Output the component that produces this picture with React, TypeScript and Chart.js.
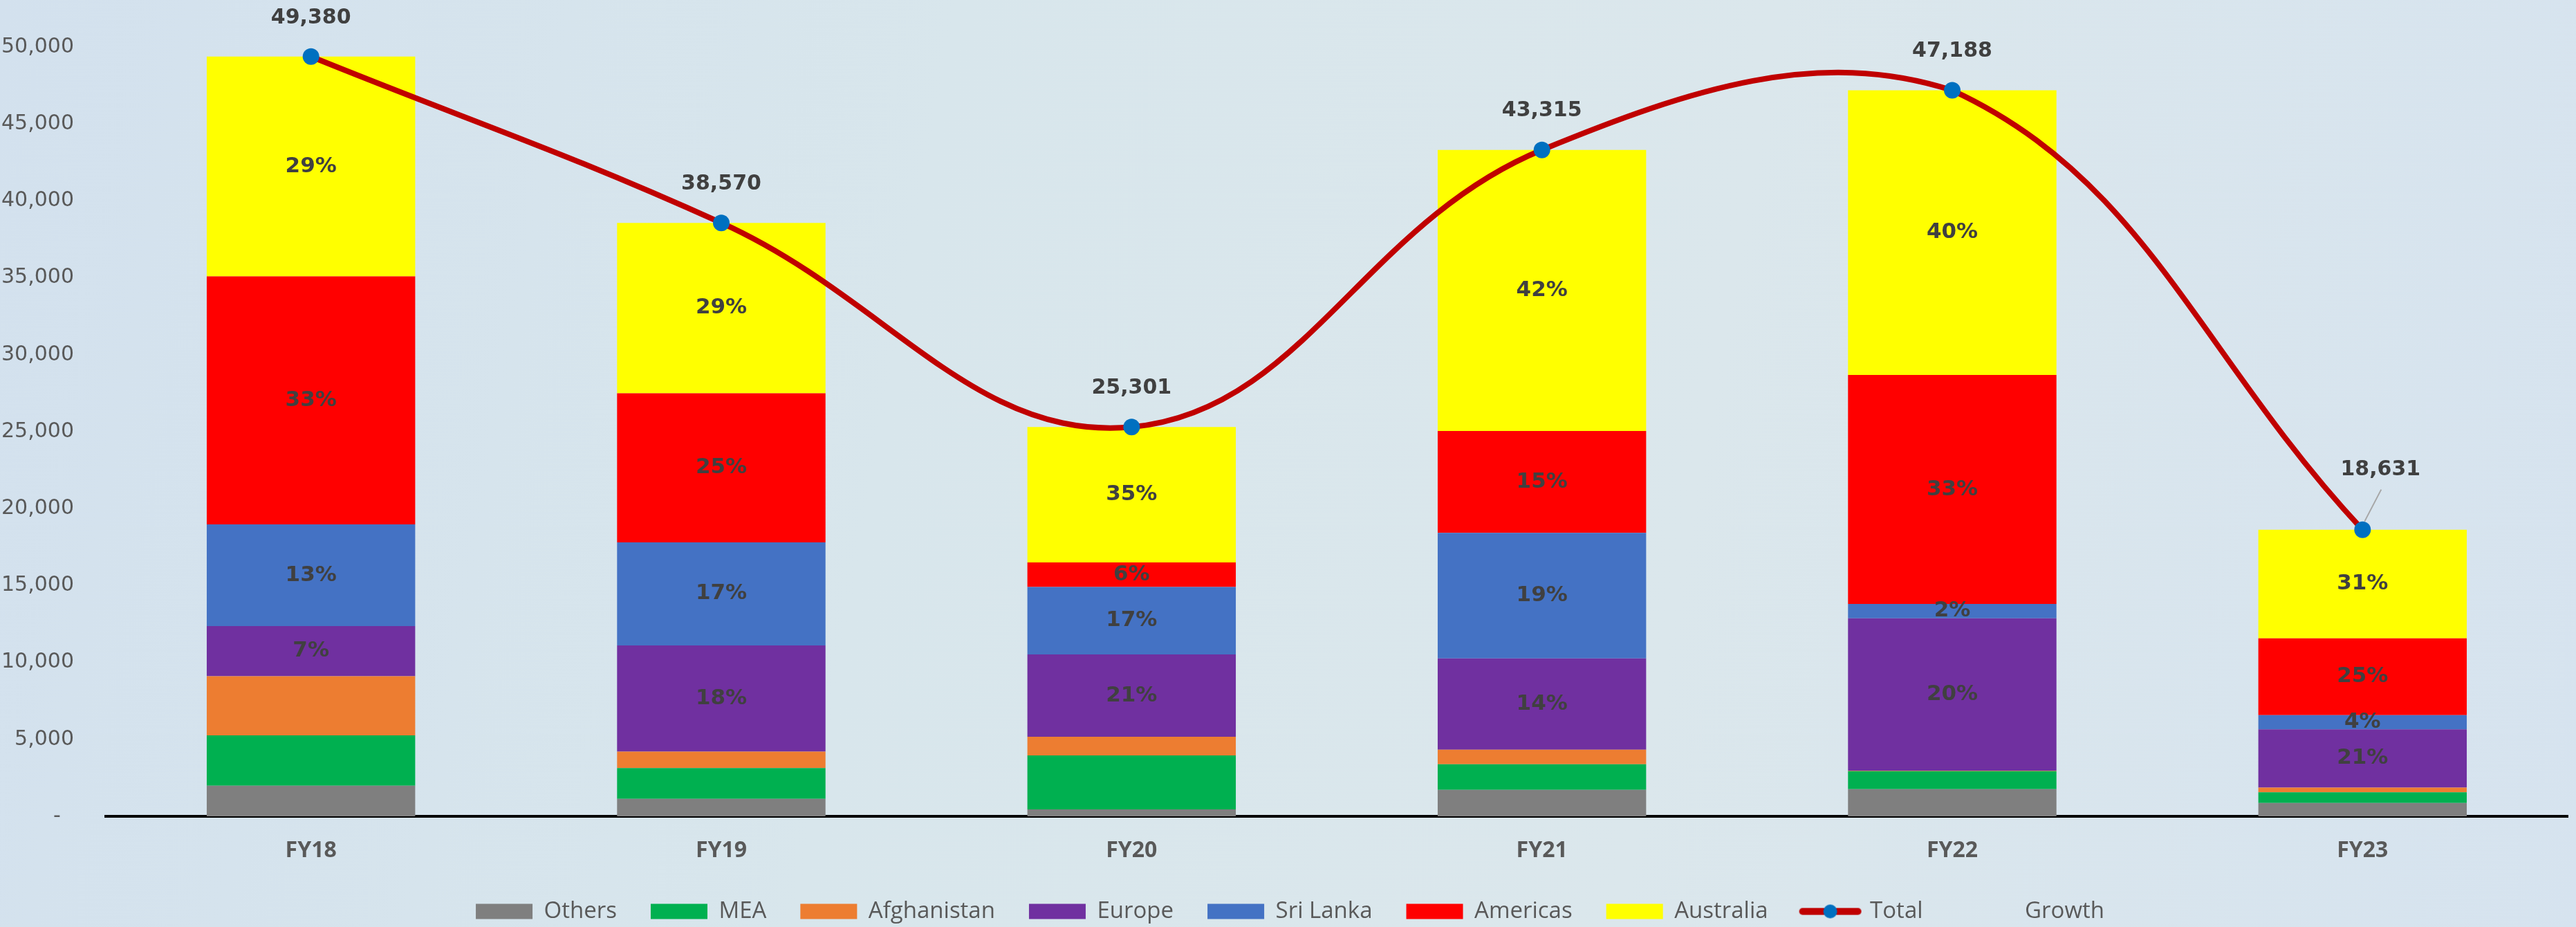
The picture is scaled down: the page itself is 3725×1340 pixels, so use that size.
import React, { useEffect, useRef } from 'react';
import { Chart, registerables } from 'chart.js';

Chart.register(...registerables);

// ---------- data ----------
const categories = ['FY18', 'FY19', 'FY20', 'FY21', 'FY22', 'FY23'];

const others = [1990, 1140, 450, 1720, 1770, 870];
const mea = [3270, 2000, 3510, 1660, 1160, 690];
const afghanistan = [3850, 1060, 1210, 950, 40, 310];
const europe = [3260, 6910, 5350, 5930, 9900, 3780];
const sriLanka = [6600, 6700, 4380, 8160, 930, 930];
const americas = [16130, 9690, 1600, 6620, 14890, 4990];
const australia = [14280, 11070, 8801, 18275, 18498, 7061];
const total = [49380, 38570, 25301, 43315, 47188, 18631];

const europePct = ['7%', '18%', '21%', '14%', '20%', '21%'];
const sriLankaPct = ['13%', '17%', '17%', '19%', '2%', '4%'];
const americasPct = ['33%', '25%', '6%', '15%', '33%', '25%'];
const australiaPct = ['29%', '29%', '35%', '42%', '40%', '31%'];

const yTicks = [0, 5000, 10000, 15000, 20000, 25000, 30000, 35000, 40000, 45000, 50000];

const W = 3725;
const H = 1340;

const fmt = (v: number) => v.toLocaleString('en-US');

export default function App() {
  const ref = useRef<HTMLCanvasElement>(null);

  useEffect(() => {
    const canvas = ref.current;
    if (!canvas) return;

    // legend icon for Total (line + marker)
    const totalIcon = document.createElement('canvas');
    totalIcon.width = 92;
    totalIcon.height = 24;
    const tc = totalIcon.getContext('2d')!;
    tc.strokeStyle = '#C00000';
    tc.lineWidth = 10;
    tc.lineCap = 'round';
    tc.beginPath();
    tc.moveTo(6, 12);
    tc.lineTo(86, 12);
    tc.stroke();
    tc.fillStyle = '#0070C0';
    tc.beginPath();
    tc.arc(46, 12, 10, 0, Math.PI * 2);
    tc.fill();

    const blankIcon = document.createElement('canvas');
    blankIcon.width = 82;
    blankIcon.height = 22;

    const barSets = [
      { label: 'Others', data: others, color: '#7F7F7F', pct: null as string[] | null },
      { label: 'MEA', data: mea, color: '#00B050', pct: null },
      { label: 'Afghanistan', data: afghanistan, color: '#ED7D31', pct: null },
      { label: 'Europe', data: europe, color: '#7030A0', pct: europePct },
      { label: 'Sri Lanka', data: sriLanka, color: '#4472C4', pct: sriLankaPct },
      { label: 'Americas', data: americas, color: '#FF0000', pct: americasPct },
      { label: 'Australia', data: australia, color: '#FFFF00', pct: australiaPct },
    ];

    const datasets: any[] = barSets.map((b) => ({
      type: 'bar',
      label: b.label,
      data: b.data,
      backgroundColor: b.color,
      borderWidth: 0,
      barPercentage: 0.508,
      categoryPercentage: 1,
      stack: 'regions',
      order: 1,
    }));
    datasets.push({
      type: 'line',
      label: 'Total',
      data: total,
      borderColor: '#C00000',
      borderWidth: 8,
      pointRadius: 12,
      pointBackgroundColor: '#0070C0',
      pointBorderWidth: 0,
      tension: 0.4,
      stack: 'total',
      order: 0,
      clip: false,
    });
    datasets.push({
      type: 'line',
      label: 'Growth',
      data: [],
      borderColor: 'rgba(0,0,0,0)',
      backgroundColor: 'rgba(0,0,0,0)',
      stack: 'growth',
      order: 0,
    });

    const labelPlugin = {
      id: 'valueLabels',
      afterDatasetsDraw(chart: any) {
        const ctx = chart.ctx;
        ctx.save();
        ctx.fillStyle = '#404040';
        ctx.textAlign = 'center';
        ctx.textBaseline = 'middle';
        ctx.font = 'bold 31px "DejaVu Sans"';
        barSets.forEach((b, di) => {
          if (!b.pct) return;
          const meta = chart.getDatasetMeta(di);
          meta.data.forEach((el: any, i: number) => {
            const y = (el.y + el.base) / 2;
            ctx.fillText(b.pct![i], el.x, y);
          });
        });
        ctx.font = 'bold 30px "DejaVu Sans"';
        const lineMeta = chart.getDatasetMeta(barSets.length);
        lineMeta.data.forEach((pt: any, i: number) => {
          if (i === total.length - 1) {
            ctx.strokeStyle = '#A6A6A6';
            ctx.lineWidth = 2;
            ctx.beginPath();
            ctx.moveTo(pt.x + 3, pt.y - 12);
            ctx.lineTo(pt.x + 27, pt.y - 58);
            ctx.stroke();
            ctx.fillText(fmt(total[i]), pt.x + 26, pt.y - 86);
          } else {
            ctx.fillText(fmt(total[i]), pt.x, pt.y - 56);
          }
        });
        ctx.restore();
      },
    };

    const chart = new Chart(canvas, {
      type: 'bar',
      data: { labels: categories, datasets },
      options: {
        responsive: false,
        animation: false,
        devicePixelRatio: 1,
        layout: { padding: { top: 68, left: 0, right: -6, bottom: -4 } },
        plugins: {
          tooltip: { enabled: false },
          legend: {
            position: 'bottom',
            labels: {
              usePointStyle: true,
              pointStyleWidth: 82,
              boxHeight: 22,
              padding: 49,
              color: '#595959',
              font: { family: '"Open Sans"', size: 33 },
              generateLabels: (chart: any) =>
                chart.data.datasets.map((ds: any, i: number) => {
                  let pointStyle: any = 'rect';
                  if (ds.label === 'Total') pointStyle = totalIcon;
                  if (ds.label === 'Growth') pointStyle = blankIcon;
                  return {
                    text: ds.label,
                    fillStyle: ds.type === 'bar' ? ds.backgroundColor : 'rgba(0,0,0,0)',
                    strokeStyle: 'rgba(0,0,0,0)',
                    lineWidth: 0,
                    pointStyle,
                    hidden: false,
                    datasetIndex: i,
                    fontColor: '#595959',
                  };
                }),
            },
          },
        },
        scales: {
          x: {
            stacked: true,
            grid: { display: false, drawTicks: false },
            border: { display: true, color: '#000000', width: 4 },
            ticks: {
              color: '#595959',
              padding: 31,
              font: { family: '"Open Sans"', size: 32, weight: 'bold' },
            },
            afterFit: (scale: any) => {
              scale.height = 72;
            },
          },
          y: {
            stacked: true,
            min: 0,
            max: 50000,
            grid: { display: false, drawTicks: false },
            border: { display: false },
            afterBuildTicks: (scale: any) => {
              scale.ticks = yTicks.map((v) => ({ value: v }));
            },
            ticks: {
              color: '#595959',
              padding: 46,
              font: { family: '"DejaVu Sans"', size: 30 },
              callback: (v: any) => (Number(v) === 0 ? '-  ' : fmt(Number(v))),
            },
            afterFit: (scale: any) => {
              scale.width = 153;
            },
          },
        },
      } as any,
      plugins: [labelPlugin],
    });

    return () => chart.destroy();
  }, []);

  return (
    <div
      style={{
        position: 'absolute',
        left: 0,
        top: 0,
        width: W,
        height: H,
        background:
          'linear-gradient(100deg, #D3E1EE 0%, #D8E6EC 35%, #DBE7EC 65%, #D6E3EF 100%)',
      }}
    >
      <canvas ref={ref} width={W} height={H} style={{ display: 'block', width: W, height: H }} />
    </div>
  );
}
